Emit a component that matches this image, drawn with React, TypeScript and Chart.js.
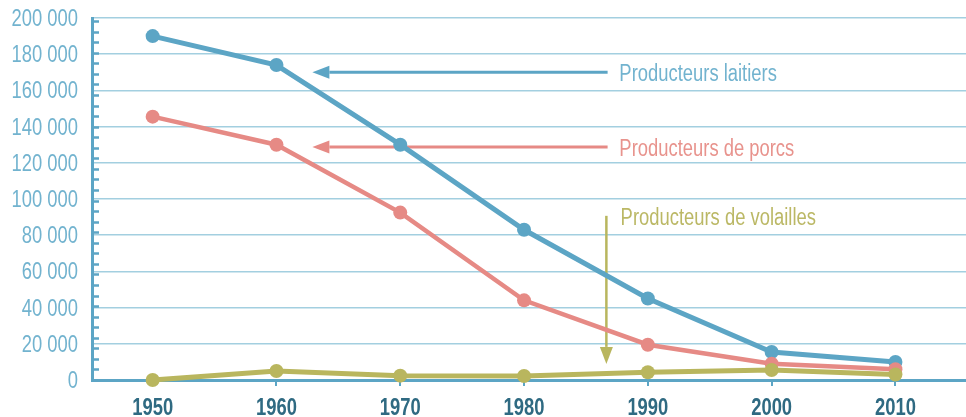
import React, { useEffect, useRef } from "react";
import { Chart, registerables } from "chart.js";

Chart.register(...registerables);

// ---- data ----
const years = [1950, 1960, 1970, 1980, 1990, 2000, 2010];
const laitiers = [190000, 174000, 130000, 83000, 45000, 15500, 10000];
const porcs = [145500, 130000, 92500, 44000, 19500, 9000, 6000];
const volailles = [0, 5000, 2400, 2200, 4300, 5500, 3000];
const yTickValues = [0, 20000, 40000, 60000, 80000, 100000, 120000, 140000, 160000, 180000, 200000];
const seriesNames = ["Producteurs laitiers", "Producteurs de porcs", "Producteurs de volailles"];

// annotation anchors in data coordinates (year, value)
const arrowTail = [
  [1986.75, 170000],
  [1986.75, 128700],
  [1986.65, 90700],
];
const arrowTip = [
  [1962.9, 170000],
  [1962.9, 128700],
  [1986.65, 8900],
];
const labelAnchor = [
  [1987.7, 170000],
  [1987.7, 128700],
  [1987.8, 90200],
];

const BLUE = "#5ca5c5";
const RED = "#e68a85";
const YELLOW = "#b9b65e";
const BLUE_TEXT = "#72b3cf";
const RED_TEXT = "#e8938d";
const YELLOW_TEXT = "#bbb865";
const GRID = "#a3cfe0";
const XLABEL = "#2f6a82";
const FONT = "'Liberation Sans', Arial, sans-serif";
const SX = 0.8;

const fmt = (v: number) => {
  const s = Math.round(v).toString();
  return s.replace(/\B(?=(\d{3})+(?!\d))/g, " ");
};

function drawCondensed(
  ctx: CanvasRenderingContext2D,
  text: string,
  x: number,
  y: number,
  align: "left" | "right" | "center",
  font: string,
  color: string
) {
  ctx.save();
  ctx.font = font;
  ctx.fillStyle = color;
  ctx.textAlign = "left";
  ctx.textBaseline = "alphabetic";
  const w = ctx.measureText(text).width * SX;
  let left = x;
  if (align === "right") left = x - w;
  else if (align === "center") left = x - w / 2;
  ctx.translate(left, y);
  ctx.scale(SX, 1);
  ctx.fillText(text, 0, 0);
  ctx.restore();
}

const annotationPlugin = {
  id: "arrowsAndTicks",
  beforeDatasetsDraw(chart: any) {
    const { ctx, scales } = chart;
    const x = scales.x;
    const y = scales.y;
    const area = chart.chartArea;
    ctx.save();
    // minor ticks on the y axis, inside the plot
    ctx.strokeStyle = BLUE;
    ctx.lineWidth = 2.5;
    const minorStep = 200000 / 34.3;
    for (let v = 0; v <= 200000 + 1; v += minorStep) {
      const py = Math.round(y.getPixelForValue(v)) + 0.5;
      ctx.beginPath();
      ctx.moveTo(area.left, py);
      ctx.lineTo(area.left + 7, py);
      ctx.stroke();
    }
    // arrows
    const colors = [BLUE, RED, YELLOW];
    const textColors = [BLUE_TEXT, RED_TEXT, YELLOW_TEXT];
    for (let i = 0; i < seriesNames.length; i++) {
      const tx = x.getPixelForValue(arrowTail[i][0]);
      const ty = y.getPixelForValue(arrowTail[i][1]);
      const hx = x.getPixelForValue(arrowTip[i][0]);
      const hy = y.getPixelForValue(arrowTip[i][1]);
      const dx = hx - tx;
      const dy = hy - ty;
      const len = Math.hypot(dx, dy);
      const ux = dx / len;
      const uy = dy / len;
      const headLen = 17;
      const headW = 6.5;
      const bx = hx - ux * headLen;
      const by = hy - uy * headLen;
      ctx.strokeStyle = colors[i];
      ctx.fillStyle = colors[i];
      ctx.lineWidth = i === 2 ? 2.5 : 3;
      ctx.beginPath();
      ctx.moveTo(tx, ty);
      ctx.lineTo(bx, by);
      ctx.stroke();
      ctx.beginPath();
      ctx.moveTo(hx, hy);
      ctx.lineTo(bx - uy * headW, by + ux * headW);
      ctx.lineTo(bx + uy * headW, by - ux * headW);
      ctx.closePath();
      ctx.fill();

      const lx = x.getPixelForValue(labelAnchor[i][0]);
      const ly = y.getPixelForValue(labelAnchor[i][1]);
      drawCondensed(ctx, seriesNames[i], lx, ly + 8.5, "left", `23px ${FONT}`, textColors[i]);
    }
    ctx.restore();
  },
  afterDraw(chart: any) {
    const { ctx, scales } = chart;
    const x = scales.x;
    const y = scales.y;
    const area = chart.chartArea;
    // y tick labels
    for (const t of y.ticks) {
      const py = y.getPixelForValue(t.value);
      drawCondensed(ctx, fmt(t.value), area.left - 14, py + 8, "right", `23px ${FONT}`, BLUE_TEXT);
    }
    // x tick labels
    for (const t of x.ticks) {
      const px = x.getPixelForValue(t.value);
      drawCondensed(ctx, String(t.value), px, area.bottom + 35, "center", `bold 23px ${FONT}`, XLABEL);
    }
  },
};

export default function App() {
  const canvasRef = useRef<HTMLCanvasElement | null>(null);

  useEffect(() => {
    if (!canvasRef.current) return;
    const mk = (data: number[]) => years.map((yr, i) => ({ x: yr, y: data[i] }));
    const chart = new Chart(canvasRef.current, {
      type: "line",
      data: {
        datasets: [
          {
            label: seriesNames[2],
            data: mk(volailles),
            borderColor: YELLOW,
            backgroundColor: YELLOW,
            borderWidth: 5,
            pointRadius: 7,
            pointBorderWidth: 0,
            order: 0,
          },
          {
            label: seriesNames[1],
            data: mk(porcs),
            borderColor: RED,
            backgroundColor: RED,
            borderWidth: 4.5,
            pointRadius: 7,
            pointBorderWidth: 0,
            order: 1,
          },
          {
            label: seriesNames[0],
            data: mk(laitiers),
            borderColor: BLUE,
            backgroundColor: BLUE,
            borderWidth: 5,
            pointRadius: 7,
            pointBorderWidth: 0,
            order: 2,
          },
        ],
      },
      options: {
        animation: false,
        responsive: false,
        maintainAspectRatio: false,
        clip: false as any,
        layout: { autoPadding: false, padding: { top: 18, right: 0, left: 0, bottom: 0 } },
        plugins: {
          legend: { display: false },
          tooltip: { enabled: false },
        },
        scales: {
          x: {
            type: "linear",
            min: 1945.1,
            max: 2015.7,
            afterBuildTicks: (scale: any) => {
              scale.ticks = years.map((v) => ({ value: v }));
            },
            afterFit: (scale: any) => {
              scale.height = 37;
              scale.paddingLeft = 0;
              scale.paddingRight = 0;
            },
            grid: {
              display: true,
              drawOnChartArea: false,
              drawTicks: true,
              tickLength: 6,
              color: BLUE,
              lineWidth: 2,
            },
            border: { display: true, color: BLUE, width: 3 },
            ticks: { display: false },
          },
          y: {
            min: 0,
            max: 200000,
            afterBuildTicks: (scale: any) => {
              scale.ticks = yTickValues.map((v) => ({ value: v }));
            },
            afterFit: (scale: any) => {
              scale.width = 92;
              scale.paddingTop = 0;
              scale.paddingBottom = 0;
            },
            grid: {
              display: true,
              drawTicks: false,
              color: GRID,
              lineWidth: 1.5,
            },
            border: { display: true, color: BLUE, width: 3 },
            ticks: { display: false },
          },
        },
      },
      plugins: [annotationPlugin],
    });
    return () => chart.destroy();
  }, []);

  return (
    <div style={{ position: "absolute", left: 0, top: 0, width: 966, height: 417, background: "#fff" }}>
      <canvas ref={canvasRef} width={966} height={417} style={{ width: 966, height: 417 }} />
    </div>
  );
}
